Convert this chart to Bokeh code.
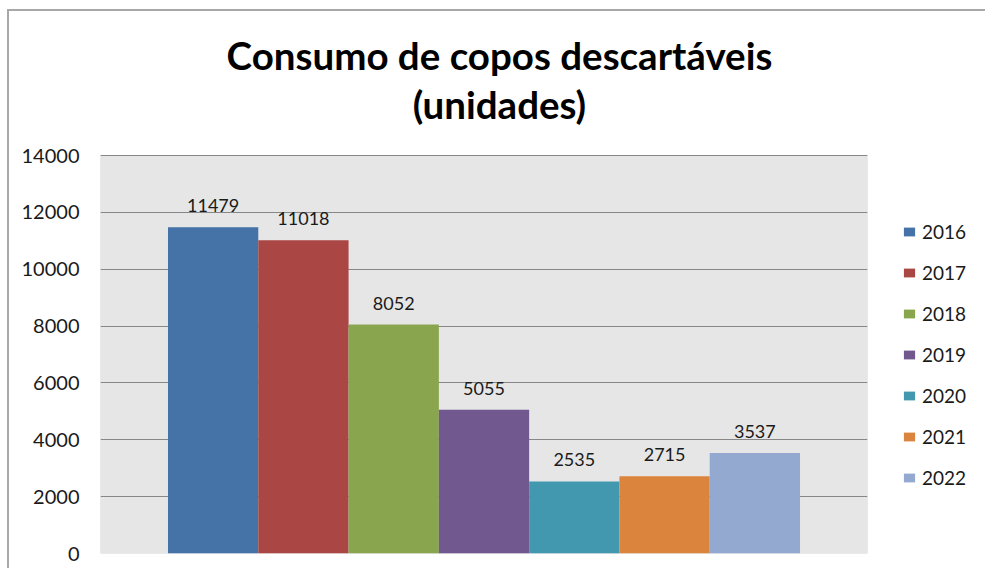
from bokeh.plotting import figure
from bokeh.models import (ColumnDataSource, Range1d, FixedTicker, Label, LabelSet,
                          Legend, LegendItem, BoxAnnotation)
from bokeh.core.properties import value
from bokeh.embed import file_html
from bokeh.resources import INLINE

# ---- data ----
years = ["2016", "2017", "2018", "2019", "2020", "2021", "2022"]
values = [11479, 11018, 8052, 5055, 2535, 2715, 3537]
colors = ["#4572A7", "#AA4643", "#89A54E", "#71588F", "#4198AF", "#DB843D", "#93A9CF"]
y_ticks = [0, 2000, 4000, 6000, 8000, 10000, 12000, 14000]
y_max = 14000
title_line1 = "Consumo de copos descartáveis"
title_line2 = "(unidades)"

FONT = "Lato"
X_PAD = 0.7475

# layout (pixels): plot area is 398px tall for 0..y_max; the frame extends above
# it so the two title lines can sit inside the frame.
AREA_H = 398
FRAME_H = 542
y_top = FRAME_H / AREA_H * y_max

src = ColumnDataSource(dict(
    x=[i + 0.5 for i in range(len(years))],
    top=values,
    color=colors,
    label=[str(v) for v in values],
))

p = figure(
    output_backend="svg", toolbar_location=None,
    frame_width=767, frame_height=FRAME_H,
    min_border_left=91, min_border_right=110, min_border_top=0, min_border_bottom=15,
    x_range=Range1d(-X_PAD, len(years) + X_PAD),
    y_range=Range1d(0, y_top),
    x_axis_type=None,
    background_fill_color="white",
    border_fill_color="white",
    outline_line_color=None,
)
p.styles = {"margin-left": "7px", "margin-top": "9px",
            "border-left": "2px solid #a8a8a8", "border-top": "2px solid #a8a8a8"}

# grey plot area with its outline
p.add_layout(BoxAnnotation(bottom=0, top=y_max, fill_color="#e6e6e6", fill_alpha=1.0,
                           line_color="#8a8a8a", line_width=1, level="image"))

p.xgrid.visible = False
p.ygrid.grid_line_color = "#878787"
p.ygrid.grid_line_width = 1
p.ygrid.ticker = FixedTicker(ticks=y_ticks)

p.yaxis.ticker = FixedTicker(ticks=y_ticks)
p.yaxis.axis_line_color = None
p.yaxis.major_tick_line_color = None
p.yaxis.minor_tick_line_color = None
p.yaxis.major_label_standoff = 15
p.yaxis.major_label_text_font = FONT
p.yaxis.major_label_text_font_size = "20px"
p.yaxis.major_label_text_color = "#1a1a1a"

r = p.vbar(x="x", top="top", width=1.0, source=src, fill_color="color", line_color=None)

labels = LabelSet(x="x", y="top", text="label", source=src, text_align="center",
                  text_baseline="alphabetic", y_offset=15, text_font=value(FONT),
                  text_font_size=value("18px"), text_color=value("#1a1a1a"))
p.add_layout(labels)

legend = Legend(
    items=[LegendItem(label=yr, renderers=[r], index=i) for i, yr in enumerate(years)],
    location=(35, 64), orientation="vertical",
    glyph_width=14, glyph_height=11, label_standoff=6,
    label_text_font=FONT, label_text_font_size="19px", label_text_color="#1a1a1a",
    label_height=22, spacing=18, padding=0, margin=0,
    border_line_color=None, background_fill_alpha=0,
)
p.add_layout(legend, "right")

# title lines (screen units from the frame's bottom-left corner)
for txt, sy in [(title_line1, 499), (title_line2, 450)]:
    p.add_layout(Label(x=399, y=sy, x_units="screen", y_units="screen", text=txt,
                       text_align="center", text_baseline="alphabetic",
                       text_font=FONT, text_font_style="bold", text_font_size="38.5px",
                       text_color="black"))

open("out.html", "w").write(file_html(p, INLINE))
